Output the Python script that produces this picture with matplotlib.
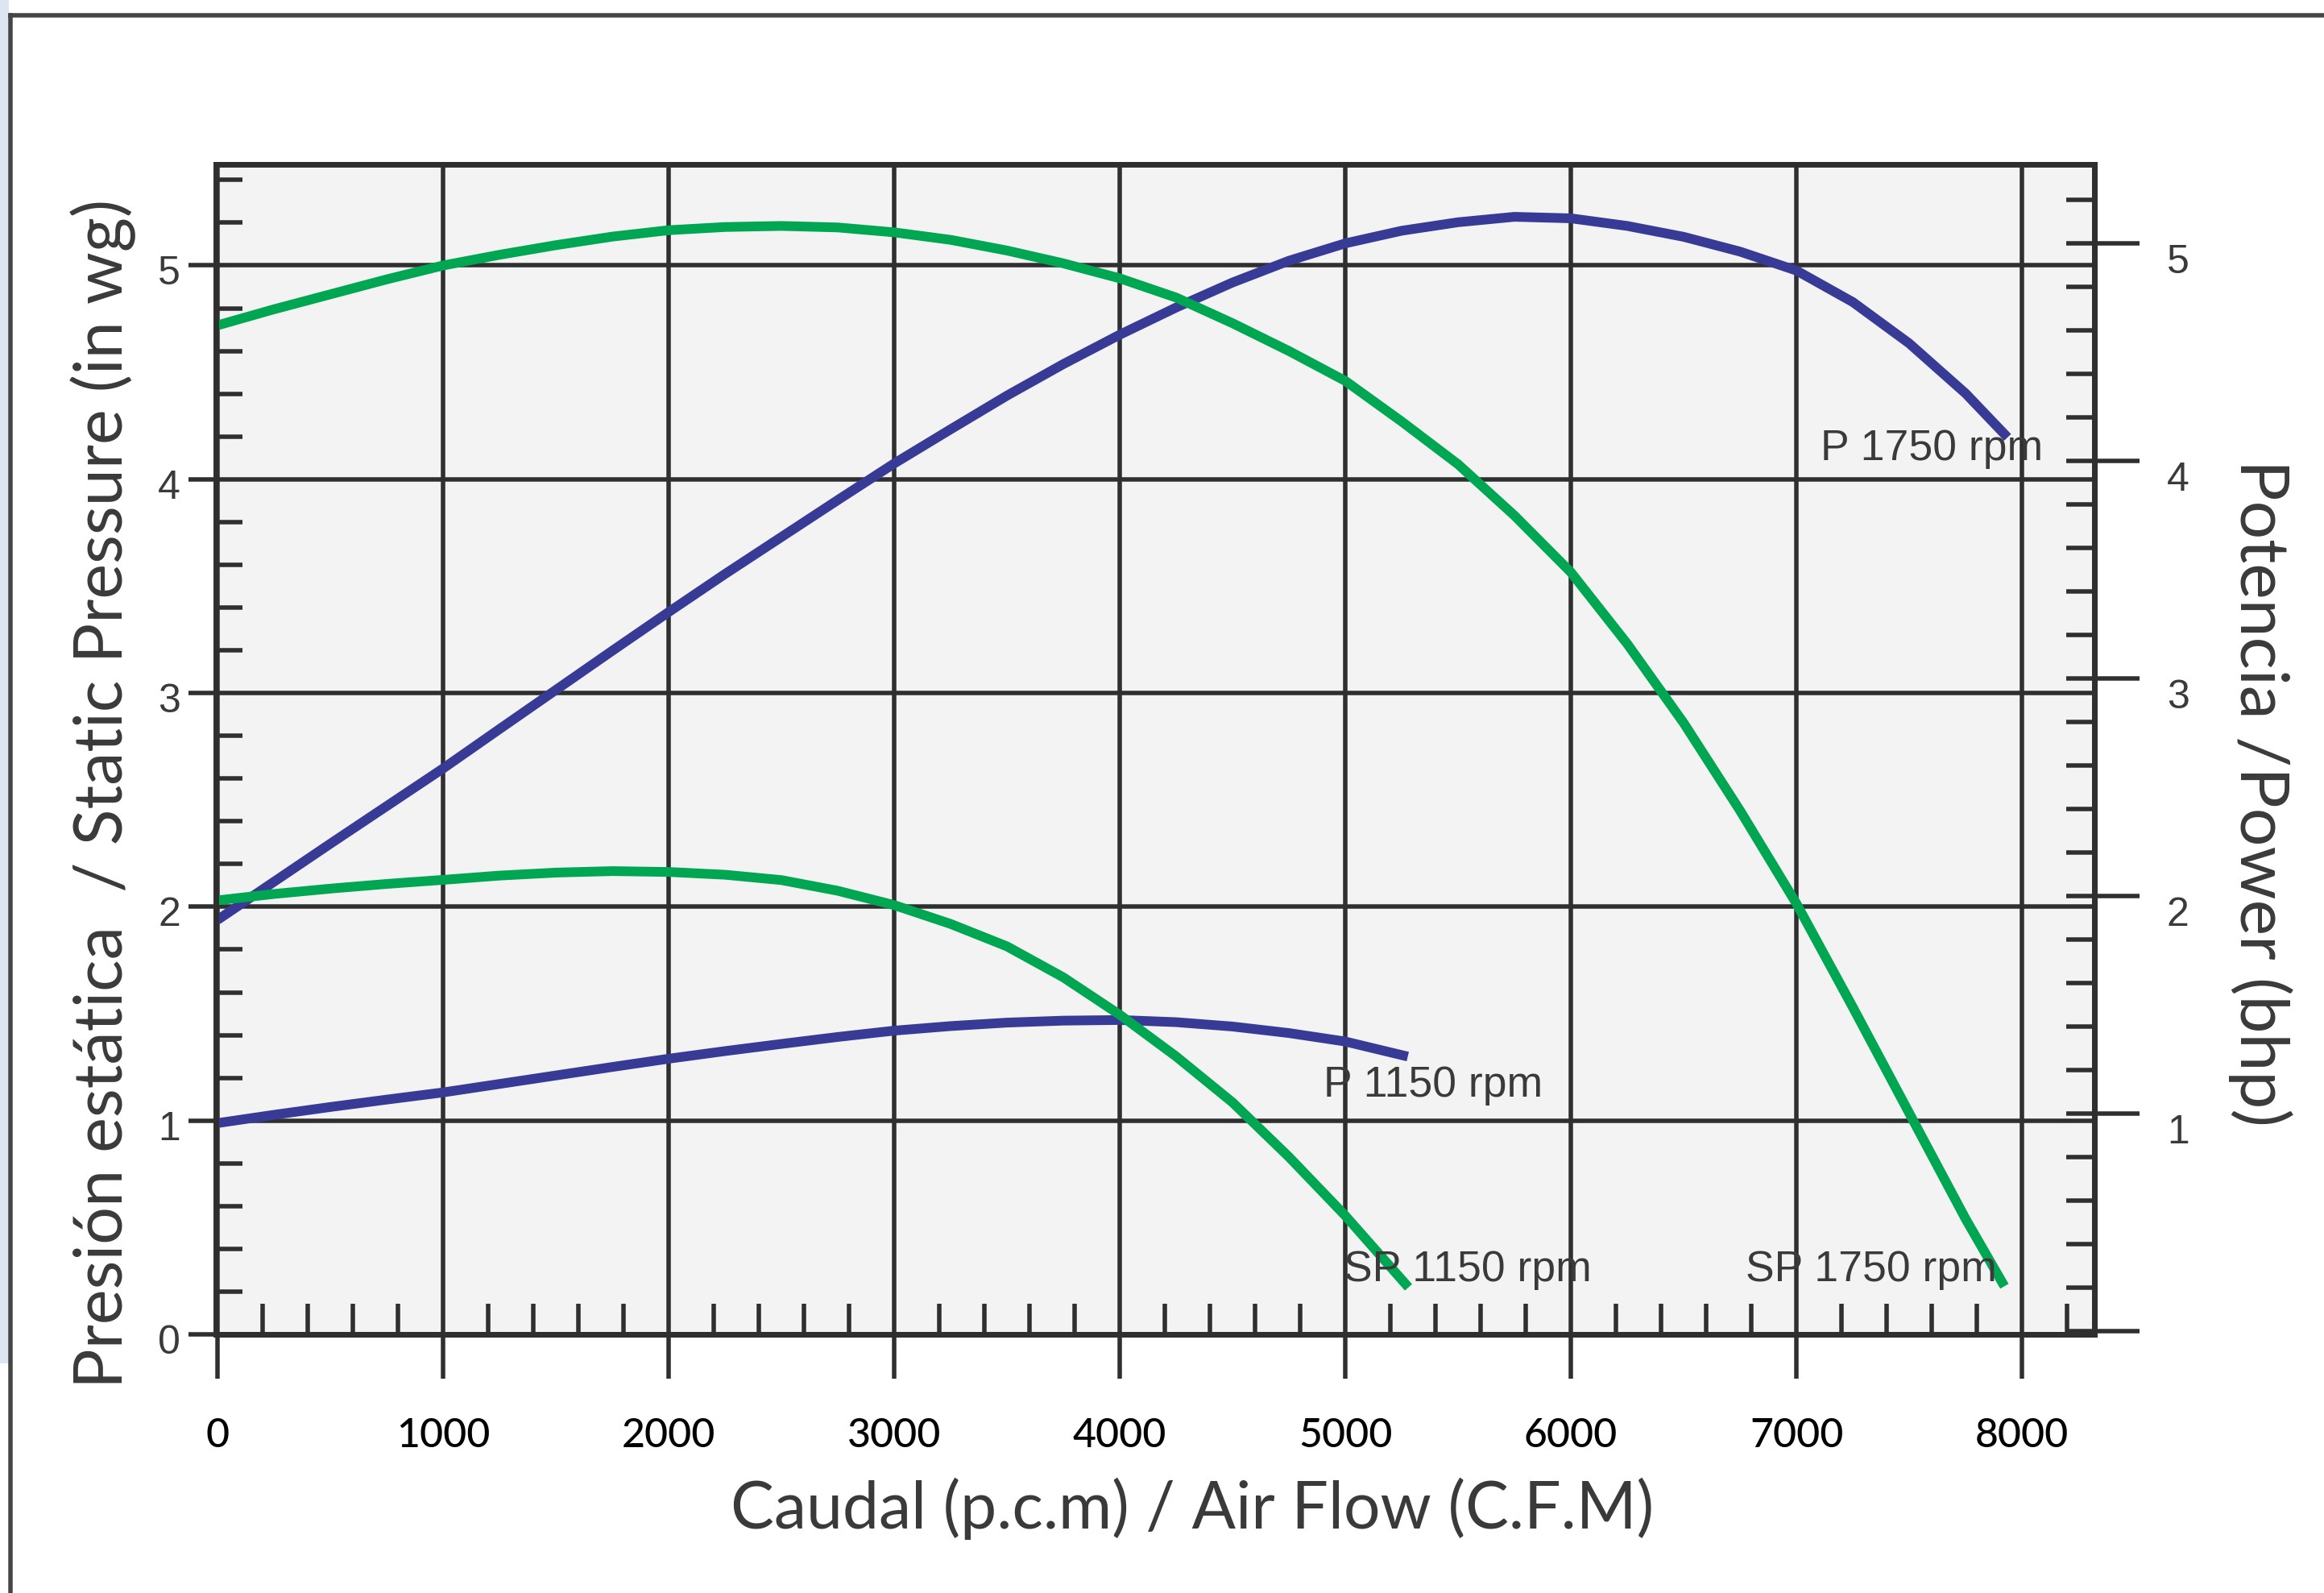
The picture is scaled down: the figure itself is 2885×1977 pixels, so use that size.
import numpy as np
import matplotlib
matplotlib.use("Agg")
import matplotlib.pyplot as plt
from matplotlib.ticker import MultipleLocator, FixedLocator, FuncFormatter
from matplotlib.transforms import ScaledTranslation
from matplotlib.lines import Line2D
from matplotlib.patches import Rectangle

# ---------------- data ----------------
# Static pressure curves (left axis, in wg)
sp1750_x = [0, 250, 500, 750, 1000, 1250, 1500, 1750, 2000, 2250, 2500, 2750, 3000,
            3250, 3500, 3750, 4000, 4250, 4500, 4750, 5000, 5250, 5500, 5750, 6000,
            6250, 6500, 6750, 7000, 7250, 7500, 7750, 7922]
sp1750_y = [4.72, 4.795, 4.865, 4.935, 5.00, 5.05, 5.095, 5.135, 5.165, 5.18, 5.185, 5.178, 5.155,
            5.12, 5.07, 5.01, 4.94, 4.85, 4.73, 4.60, 4.46, 4.27, 4.07, 3.83, 3.565,
            3.23, 2.86, 2.45, 2.015, 1.53, 1.035, 0.54, 0.225]

sp1150_x = [0, 250, 500, 750, 1000, 1250, 1500, 1750, 2000, 2250, 2500, 2750, 3000,
            3250, 3500, 3750, 4000, 4250, 4500, 4750, 5000, 5280]
sp1150_y = [2.03, 2.06, 2.085, 2.107, 2.126, 2.146, 2.16, 2.167, 2.163, 2.15, 2.125, 2.075, 2.008,
            1.92, 1.815, 1.67, 1.495, 1.30, 1.085, 0.83, 0.555, 0.22]

# Power curves (right axis, bhp)
p1750_x = [0, 250, 500, 750, 1000, 1250, 1500, 1750, 2000, 2250, 2500, 2750, 3000,
           3250, 3500, 3750, 4000, 4250, 4500, 4750, 5000, 5250, 5500, 5750, 6000,
           6250, 6500, 6750, 7000, 7250, 7500, 7750, 7936]
p1750_y = [1.89, 2.065, 2.24, 2.413, 2.586, 2.767, 2.947, 3.127, 3.305, 3.48, 3.65, 3.82, 3.988,
           4.145, 4.30, 4.445, 4.58, 4.705, 4.82, 4.92, 5.00, 5.058, 5.097, 5.122, 5.115,
           5.08, 5.03, 4.962, 4.875, 4.73, 4.54, 4.31, 4.108]

p1150_x = [0, 250, 500, 750, 1000, 1250, 1500, 1750, 2000, 2250, 2500, 2750, 3000,
           3250, 3500, 3750, 4000, 4250, 4500, 4750, 5000, 5277]
p1150_y = [0.956, 0.994, 1.03, 1.064, 1.097, 1.136, 1.175, 1.214, 1.252, 1.287, 1.32, 1.352, 1.381,
           1.402, 1.418, 1.427, 1.43, 1.42, 1.40, 1.37, 1.331, 1.262]

x_ticks = [0, 1000, 2000, 3000, 4000, 5000, 6000, 7000, 8000]
left_ticks = [0, 1, 2, 3, 4, 5]
right_ticks = [0, 1, 2, 3, 4, 5]

curve_labels = ["P 1750 rpm", "P 1150 rpm", "SP 1150 rpm", "SP 1750 rpm"]

x_label = "Caudal (p.c.m) / Air Flow (C.F.M)"
y_label = "Presión estática  / Static Pressure (in wg)"
y2_label = "Potencia /Power (bhp)"

# ---------------- figure ----------------
W, H, DPI = 2885, 1977, 100
fig = plt.figure(figsize=(W / DPI, H / DPI), dpi=DPI, facecolor="white")


def pt(p):
    return p * 72.0 / DPI


DARK = "#2f2f2f"
GREEN = "#00a651"
BLUE = "#383b96"
TXT = "#3a3a3a"

# outer frame + light blue strip
fig.add_artist(Rectangle((0, 1 - 1692 / H), 11 / W, 1692 / H, transform=fig.transFigure,
                         facecolor="#dce6f2", edgecolor="none", zorder=0))
fig.add_artist(Line2D([13 / W, 13 / W], [0, 1 - 19 / H], transform=fig.transFigure,
                      color="#454545", lw=pt(5.5), solid_capstyle="projecting"))
fig.add_artist(Line2D([13 / W, 1.0], [1 - 19 / H, 1 - 19 / H], transform=fig.transFigure,
                      color="#454545", lw=pt(5.5), solid_capstyle="projecting"))

L, R, T, B = 268, 2600, 204, 1656
ax = fig.add_axes([L / W, 1 - B / H, (R - L) / W, (B - T) / H])
ax2 = ax.twinx()
ax.set_facecolor("#f3f3f3")

ax2.set_ylim(-0.015, 5.363)

# curves (green on left scale, blue on right scale; drawn in ax so green sits on top)
LW = pt(12)
ax.plot(p1750_x, p1750_y, color=BLUE, lw=LW, transform=ax2.transData,
        zorder=3, solid_capstyle="butt", solid_joinstyle="round")
ax.plot(p1150_x, p1150_y, color=BLUE, lw=LW, transform=ax2.transData,
        zorder=3, solid_capstyle="butt", solid_joinstyle="round")
ax.plot(sp1750_x, sp1750_y, color=GREEN, lw=LW, zorder=4, solid_capstyle="butt",
        solid_joinstyle="round")
ax.plot(sp1150_x, sp1150_y, color=GREEN, lw=LW, zorder=4, solid_capstyle="butt",
        solid_joinstyle="round")
ax.set_xlim(-7, 8321)
ax.set_ylim(0, 5.473)

# grid
ax.grid(True, which="major", color=DARK, lw=pt(5.5))
ax.set_axisbelow(True)

for a in (ax, ax2):
    for s in a.spines.values():
        s.set_color(DARK)
        s.set_linewidth(pt(7))

# ticks: x
ax.xaxis.set_major_locator(FixedLocator(x_ticks))
ax.xaxis.set_minor_locator(MultipleLocator(200))
ax.tick_params(axis="x", which="major", direction="out", length=pt(55), width=pt(5.5),
               color=DARK, pad=pt(48), labelsize=36, labelcolor="#000000")
ax.tick_params(axis="x", which="minor", direction="in", length=pt(38), width=pt(5.5), color=DARK)
for lab in ax.get_xticklabels():
    lab.set_fontfamily("Lato")
    lab.set_fontweight("medium")

# ticks: left y
ax.yaxis.set_major_locator(FixedLocator(left_ticks))
ax.yaxis.set_minor_locator(MultipleLocator(0.2))
ax.tick_params(axis="y", which="major", direction="out", length=pt(34), width=pt(5.5),
               color=DARK, pad=pt(10), labelsize=36, labelcolor=TXT)
ax.tick_params(axis="y", which="minor", direction="in", length=pt(33), width=pt(5.5), color=DARK)
ax.tick_params(right=False, which="both")
for lab in ax.get_yticklabels():
    lab.set_fontfamily("Liberation Sans")

# ticks: right y
ax2.yaxis.set_major_locator(FixedLocator(right_ticks))
ax2.yaxis.set_minor_locator(MultipleLocator(0.2))
ax2.yaxis.remove_overlapping_locs = False
ax2.yaxis.set_major_formatter(FuncFormatter(lambda v, p: "" if abs(v) < 1e-9 else f"{v:g}"))
ax2.tick_params(axis="y", which="major", direction="out", length=pt(56), width=pt(5.5),
                color=DARK, pad=pt(34), labelsize=36, labelcolor=TXT)
ax2.tick_params(axis="y", which="minor", direction="in", length=pt(35), width=pt(5.5), color=DARK)
for lab in ax2.get_yticklabels():
    lab.set_fontfamily("Liberation Sans")

# curve labels
label_pos = [(7107, 4.09), (4904, 1.112), (4993, 0.249), (6775, 0.249)]
for txt, (lx, ly) in zip(curve_labels, label_pos):
    ax.text(lx, ly, txt, ha="left", va="baseline", fontsize=38.5,
            family="Liberation Sans", color=TXT, zorder=5)

# axis labels
xl = fig.text(1480 / W, 1 - 1897 / H, x_label, ha="center", va="baseline",
              fontsize=44, family="Lato", color=TXT)
yl = fig.text(152 / W, 1 - 984.5 / H, y_label, rotation=90, rotation_mode="anchor",
              ha="center", va="baseline", fontsize=44, family="Lato", color=TXT)
rl = fig.text(2781 / W, 1 - 984 / H, y2_label, rotation=270, rotation_mode="anchor",
              ha="center", va="baseline", fontsize=44, family="Lato", color=TXT)

fig.canvas.draw()
r = fig.canvas.get_renderer()


def fit(t, target, vertical=False):
    for _ in range(3):
        bb = t.get_window_extent(r)
        cur = bb.height if vertical else bb.width
        t.set_fontsize(t.get_fontsize() * target / cur)


fit(xl, 1148)
fit(yl, 1475, vertical=True)
fit(rl, 828, vertical=True)

# shift tick labels slightly downward like the reference
for lab in ax.get_yticklabels():
    lab.set_transform(lab.get_transform() + ScaledTranslation(0, -6 / DPI, fig.dpi_scale_trans))
for lab in ax2.get_yticklabels():
    lab.set_transform(lab.get_transform() + ScaledTranslation(0, -19 / DPI, fig.dpi_scale_trans))

fig.savefig("out.png", dpi=DPI, facecolor="white")
